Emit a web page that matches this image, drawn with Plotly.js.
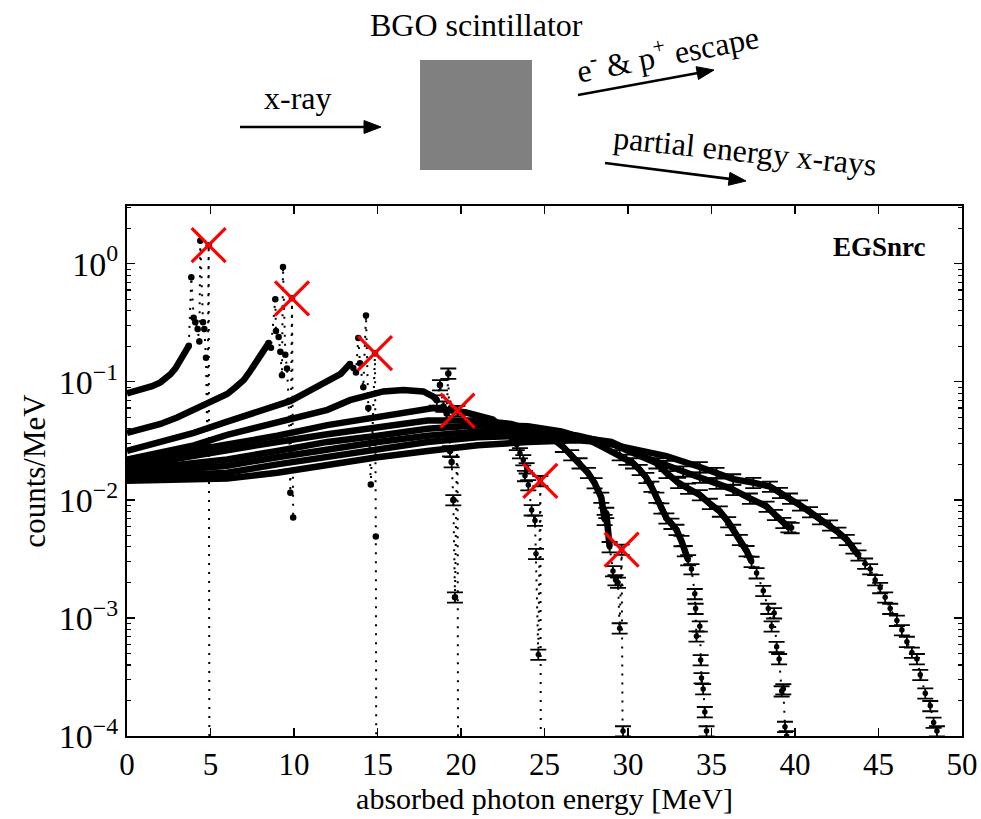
<!DOCTYPE html>
<html>
<head>
<meta charset="utf-8">
<script src="https://cdn.plot.ly/plotly-3.0.1.min.js"></script>
<style>html,body{margin:0;padding:0;background:#fff;}#chart{width:981px;height:819px;}</style>
</head>
<body>
<div id="chart"></div>
<script>
// ---------- axis ticks ----------
const xTickVals = [0, 5, 10, 15, 20, 25, 30, 35, 40, 45, 50];
const yTickVals = [1e-4, 1e-3, 1e-2, 1e-1, 1];
const yTickText = ['10<sup>\u22124</sup>', '10<sup>\u22123</sup>', '10<sup>\u22122</sup>', '10<sup>\u22121</sup>', '10<sup>0</sup>'];

// ---------- spectra (continuum part c.., peak / fall-off part t..) ----------
// 5 MeV
const c05x = [0, 0.5, 1, 1.5, 2, 2.3, 2.6, 2.9, 3.1, 3.3, 3.5, 3.7];
const c05y = [0.080, 0.083, 0.087, 0.092, 0.099, 0.106, 0.116, 0.130, 0.146, 0.163, 0.183, 0.202];
const t05x = [3.7, 3.85, 3.99, 4.09, 4.23, 4.33, 4.39, 4.55, 4.63, 4.73, 4.81, 4.89, 4.95];
const t05y = [0.202, 0.77, 0.35, 0.32, 0.28, 0.22, 1.57, 0.32, 0.28, 0.16, 0.03, 1.44, 1e-6];
// 10 MeV
const c10x = [0, 1, 2, 3, 4, 5, 6, 6.5, 7, 7.3, 7.6, 7.9, 8.2, 8.48];
const c10y = [0.037, 0.040, 0.044, 0.050, 0.058, 0.067, 0.079, 0.090, 0.104, 0.119, 0.137, 0.160, 0.189, 0.213];
const t10x = [8.48, 8.62, 8.88, 8.92, 9.08, 9.18, 9.28, 9.34, 9.48, 9.58, 9.68, 9.78, 9.88, 9.95];
const t10y = [0.213, 0.195, 0.50, 0.27, 0.24, 0.18, 0.114, 0.94, 0.17, 0.13, 0.069, 0.0115, 0.51, 0.0071];
// 15 MeV
const c15x = [0, 2, 4, 6, 8, 9.8, 11, 12, 12.8, 13.35];
const c15y = [0.026, 0.031, 0.037, 0.046, 0.056, 0.069, 0.085, 0.100, 0.117, 0.142];
const t15x = [13.35, 13.55, 13.71, 13.85, 13.95, 14.15, 14.31, 14.45, 14.6, 14.85, 14.9, 14.95];
const t15y = [0.142, 0.131, 0.12, 0.235, 0.144, 0.090, 0.365, 0.060, 0.0135, 0.175, 0.0049, 1e-6];
// 20 MeV
const c20x = [0, 2, 4, 6, 8, 10, 12, 13.35, 14.3, 15.35, 16.55, 17.74, 18.34, 18.55];
const c20y = [0.022, 0.025, 0.029, 0.0356, 0.042, 0.050, 0.058, 0.070, 0.077, 0.083, 0.0855, 0.083, 0.075, 0.070];
const t20x = [18.55, 18.74, 18.95, 19.14, 19.24, 19.34, 19.44, 19.54, 19.64, 19.79, 19.84];
const t20y = [0.070, 0.094, 0.062, 0.054, 0.118, 0.026, 0.021, 0.010, 0.0015, 0.057, 1e-6];
// 25 MeV
const c25x = [0, 3, 6, 9, 12, 15, 18.35, 20.3, 21.1, 21.9, 22.5, 23.0];
const c25y = [0.0205, 0.025, 0.0295, 0.035, 0.043, 0.050, 0.060, 0.055, 0.052, 0.048, 0.041, 0.034];
const t25x = [23.0, 23.34, 23.53, 23.73, 23.83, 23.93, 24.03, 24.23, 24.43, 24.49, 24.63, 24.75, 24.8];
const t25y = [0.034, 0.0293, 0.025, 0.0218, 0.0160, 0.0186, 0.0134, 0.0082, 0.0067, 0.0035, 0.00049, 0.0145, 1e-6];
// 30 MeV
const c30x = [0, 3, 6, 9, 12, 15, 18, 21, 23, 24.5, 25.5, 26.1];
const c30y = [0.019, 0.0225, 0.026, 0.031, 0.036, 0.041, 0.047, 0.047, 0.044, 0.038, 0.033, 0.0283];
const t30x = [26.1, 26.6, 27.1, 27.6, 28.0, 28.4, 28.6, 28.7, 28.9, 29.1, 29.25, 29.4, 29.5, 29.62, 29.7, 29.75];
const t30y = [0.0283, 0.024, 0.0205, 0.017, 0.0139, 0.0105, 0.0068, 0.0078, 0.0040, 0.0025, 0.0021, 0.0020, 0.00082, 0.0038, 0.00011, 1e-6];
// 35 MeV
const c35x = [0, 3, 6, 9, 12, 15, 18, 21, 24, 26, 27.5, 28.5, 29.5];
const c35y = [0.0178, 0.020, 0.022, 0.026, 0.031, 0.035, 0.040, 0.043, 0.042, 0.038, 0.033, 0.028, 0.024];
const t35x = [29.5, 29.9, 30.3, 30.7, 31.1, 31.4, 31.7, 32.0, 32.3, 32.6, 32.9, 33.2, 33.4, 33.6, 33.8, 34.0, 34.05, 34.1, 34.3, 34.35, 34.4, 34.5, 34.6, 34.7];
const t35y = [0.024, 0.022, 0.0205, 0.018, 0.0154, 0.013, 0.0105, 0.0085, 0.0070, 0.0063, 0.0056, 0.0045, 0.0037, 0.0031, 0.0026, 0.0016, 0.0012, 0.0007, 0.00085, 0.00044, 0.00031, 0.00025, 0.00016, 0.00011];
// 40 MeV
const c40x = [0, 3, 6, 9, 12, 15, 18, 21, 24, 27, 29, 30.7, 31.7];
const c40y = [0.0165, 0.018, 0.0195, 0.023, 0.027, 0.031, 0.035, 0.038, 0.039, 0.035, 0.030, 0.024, 0.0205];
const t40x = [31.7, 32.3, 33.0, 33.6, 34.3, 34.9, 35.5, 36.0, 36.3, 36.7, 37.1, 37.4, 37.7, 38.1, 38.4, 38.6, 38.75, 38.9, 39.05, 39.2, 39.3, 39.4, 39.5];
const t40y = [0.0205, 0.017, 0.014, 0.0125, 0.011, 0.0093, 0.0080, 0.0065, 0.0056, 0.0046, 0.0037, 0.0030, 0.0024, 0.0017, 0.0012, 0.00085, 0.0011, 0.00057, 0.00045, 0.00024, 0.00025, 0.00012, 0.0001];
// 45 MeV
const c45x = [0, 3, 6, 9, 12, 15, 18, 21, 24, 27, 29, 31, 32.3];
const c45y = [0.0155, 0.016, 0.017, 0.020, 0.023, 0.027, 0.031, 0.034, 0.035, 0.034, 0.031, 0.023, 0.0195];
const t45x = [32.3, 33.3, 34.3, 35.3, 36.3, 37.3, 38.3, 38.8, 39.3, 39.6, 39.8];
const t45y = [0.0195, 0.0175, 0.0155, 0.0138, 0.0122, 0.0103, 0.0088, 0.0075, 0.0064, 0.0059, 0.0058];
// 50 MeV
const c50x = [0, 3, 6, 9, 12, 15, 18, 21, 24, 27, 28.3, 30.3, 32.3, 34.3];
const c50y = [0.0145, 0.0148, 0.0152, 0.017, 0.020, 0.023, 0.026, 0.029, 0.031, 0.032, 0.031, 0.027, 0.0235, 0.019];
const t50x = [34.3, 35.3, 36.3, 37.5, 38.5, 39.1, 39.7, 40.3, 40.9, 41.5, 42.1, 42.6, 43.1, 43.5, 43.8, 44.2, 44.5, 44.8, 45.1, 45.4, 45.7, 46.1, 46.4, 46.7, 47.0, 47.3, 47.5, 47.8, 48.1, 48.3, 48.5];
const t50y = [0.019, 0.017, 0.0150, 0.0140, 0.0130, 0.0115, 0.0103, 0.0090, 0.0079, 0.0069, 0.0061, 0.0053, 0.0046, 0.0039, 0.0034, 0.0029, 0.0026, 0.0021, 0.0018, 0.0015, 0.0012, 0.00095, 0.00079, 0.00063, 0.00051, 0.00045, 0.00033, 0.00023, 0.00018, 0.00013, 0.00011];

// full-energy peak markers (red crosses)
const peakX = [4.89, 9.88, 14.85, 19.79, 24.75, 29.62];
const peakY = [1.44, 0.51, 0.175, 0.057, 0.0145, 0.0038];

// ---------- build traces ----------
const curves = [
  [c05x, c05y, t05x, t05y], [c10x, c10y, t10x, t10y], [c15x, c15y, t15x, t15y],
  [c20x, c20y, t20x, t20y], [c25x, c25y, t25x, t25y], [c30x, c30y, t30x, t30y],
  [c35x, c35y, t35x, t35y], [c40x, c40y, t40x, t40y], [c45x, c45y, t45x, t45y],
  [c50x, c50y, t50x, t50y]
];
const traces = [];
curves.forEach(([cx, cy, tx, ty], i) => {
  // dense-bin band: continuum, and for the high-energy spectra the upper part of the fall-off
  const bx = cx.slice(), by = cy.slice();
  if (i >= 5) {
    for (let k = 1; k < tx.length && ty[k] >= 0.003; k++) { bx.push(tx[k]); by.push(ty[k]); }
  }
  traces.push({x: bx, y: by, type: 'scatter', mode: 'lines',
    line: {color: '#000', width: 6.5}, hoverinfo: 'skip'});
  const tr = {x: tx, y: ty, type: 'scatter', mode: 'lines+markers',
    line: {color: '#000', width: 2, dash: '2px,7px'},
    marker: {color: '#000', size: i < 4 ? 6.5 : 5.5},
    hoverinfo: 'skip'};
  if (i >= 3) tr.error_y = {type: 'percent', value: 10, color: '#000', thickness: 1.8, width: 8};
  traces.push(tr);
});
traces.push({x: peakX, y: peakY, type: 'scatter', mode: 'markers',
  marker: {symbol: 'x-thin-open', size: 34, color: '#ff0000', line: {color: '#ff0000', width: 3.2}},
  hoverinfo: 'skip'});

// minor log ticks
const minorVals = [];
[1e-4, 1e-3, 1e-2, 1e-1, 1].forEach(d => [2,3,4,5,6,7,8,9].forEach(k => minorVals.push(k * d)));

const F = 'Liberation Serif, Times New Roman, serif';
const L = 127, R = 962, T = 206, B = 736;
const px = v => (v - L) / (R - L);
const py = v => (B - v) / (B - T);

// arrows of the detector sketch (pixel positions of tail and head)
function arrowShapes(x0, y0, x1, y1) {
  const dx = x1 - x0, dy = y1 - y0, len = Math.hypot(dx, dy);
  const ux = dx / len, uy = dy / len, nx = -uy, ny = ux;
  const hl = 17, hw = 6.5;
  const bx = x1 - ux * hl, by = y1 - uy * hl;
  return [
    {type: 'line', xref: 'paper', yref: 'paper', x0: px(x0), y0: py(y0), x1: px(bx + ux * 2), y1: py(by + uy * 2),
     line: {color: '#000', width: 2.6}},
    {type: 'path', xref: 'paper', yref: 'paper',
     path: `M ${px(x1)},${py(y1)} L ${px(bx + nx * hw)},${py(by + ny * hw)} L ${px(bx - nx * hw)},${py(by - ny * hw)} Z`,
     fillcolor: '#000', line: {color: '#000', width: 1}}
  ];
}

const layout = {
  width: 981, height: 819,
  margin: {l: 127, r: 19, t: 206, b: 83},
  paper_bgcolor: '#fff', plot_bgcolor: '#fff',
  showlegend: false, hovermode: false,
  font: {family: F, color: '#000'},
  xaxis: {
    range: [0, 50], tickmode: 'array', tickvals: xTickVals,
    ticks: 'inside', ticklen: 8, tickwidth: 1.2, tickcolor: '#000',
    showline: true, linecolor: '#000', linewidth: 2, mirror: 'ticks',
    showgrid: false, zeroline: false,
    tickfont: {family: F, size: 31, color: '#000'},
    title: {text: 'absorbed photon energy [MeV]', standoff: 2, font: {family: F, size: 30, color: '#000'}}
  },
  yaxis: {
    type: 'log', range: [-4, 0.49], tickmode: 'array', tickvals: yTickVals, ticktext: yTickText,
    ticks: 'inside', ticklen: 8, tickwidth: 1.2, tickcolor: '#000',
    minor: {tickmode: 'array', tickvals: minorVals, ticks: 'inside', ticklen: 4, tickcolor: '#000', showgrid: false},
    showline: true, linecolor: '#000', linewidth: 2, mirror: 'ticks',
    showgrid: false, zeroline: false,
    tickfont: {family: F, size: 34, color: '#000'},
    title: {text: 'counts/MeV', standoff: 4, font: {family: F, size: 31, color: '#000'}}
  },
  shapes: [
    {type: 'rect', xref: 'paper', yref: 'paper', x0: px(420), x1: px(532), y0: py(170), y1: py(60),
     fillcolor: '#808080', line: {width: 0}},
    ...arrowShapes(240, 127, 381, 127),
    ...arrowShapes(578, 95, 714, 70),
    ...arrowShapes(605, 163, 746, 181)
  ],
  annotations: [
    {xref: 'paper', yref: 'paper', x: px(476), y: py(25), text: 'BGO scintillator', showarrow: false,
     xanchor: 'center', yanchor: 'middle', font: {family: F, size: 32, color: '#000'}},
    {xref: 'paper', yref: 'paper', x: px(298), y: py(98), text: 'x-ray', showarrow: false,
     xanchor: 'center', yanchor: 'middle', font: {family: F, size: 32, color: '#000'}},
    {xref: 'paper', yref: 'paper', x: px(667), y: py(52), text: 'e<sup>-</sup> & p<sup>+</sup> escape', showarrow: false,
     textangle: -11, xanchor: 'center', yanchor: 'middle', font: {family: F, size: 32, color: '#000'}},
    {xref: 'paper', yref: 'paper', x: px(745), y: py(151), text: 'partial energy x-rays', showarrow: false,
     textangle: 6, xanchor: 'center', yanchor: 'middle', font: {family: F, size: 32, color: '#000'}},
    {xref: 'paper', yref: 'paper', x: px(879), y: py(247), text: '<b>EGSnrc</b>', showarrow: false,
     xanchor: 'center', yanchor: 'middle', font: {family: F, size: 27, color: '#000'}}
  ]
};

Plotly.newPlot('chart', traces, layout, {staticPlot: true, displayModeBar: false});
</script>
</body>
</html>
